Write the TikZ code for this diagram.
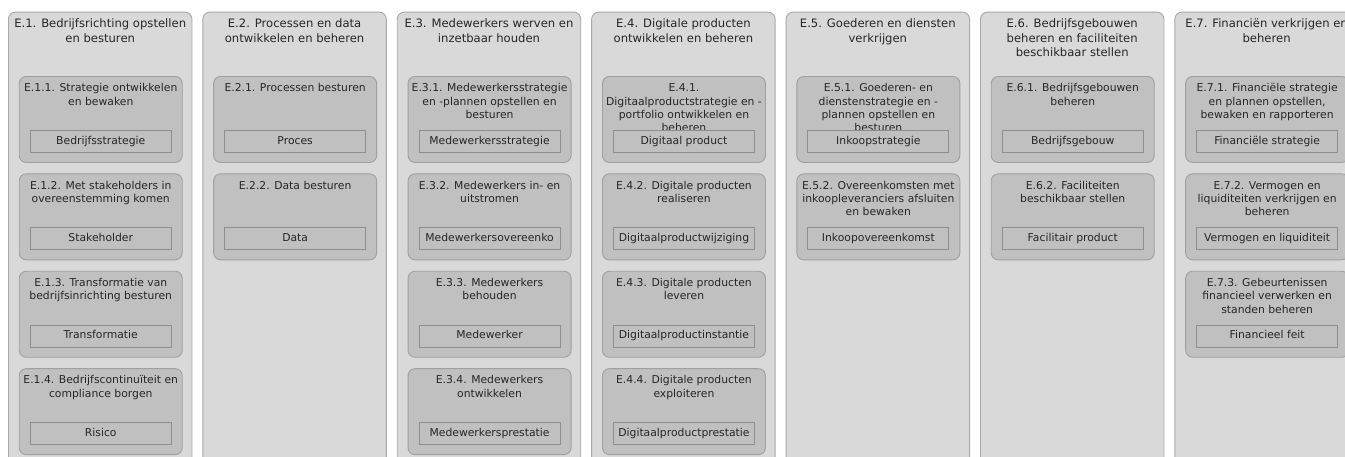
\documentclass[tikz,border=0pt]{standalone}
\usepackage{fontspec}
\setmainfont{DejaVu Sans}
\definecolor{colfill}{HTML}{D9D9D9}
\definecolor{colline}{HTML}{A8A8A8}
\definecolor{procfill}{HTML}{C0C0C0}
\definecolor{procline}{HTML}{A0A0A0}
\definecolor{objline}{HTML}{8E8E8E}
\definecolor{txt}{HTML}{262626}
\tikzset{
 column/.style={draw=colline, fill=colfill, line width=0.9pt, rounded corners=7pt, minimum width=183.5pt, minimum height=480pt, anchor=north west, inner sep=0pt},
 coltitle/.style={align=center, font=\fontsize{11.6}{14.6}\selectfont, text=txt, anchor=north, inner sep=0pt},
 proc/.style={draw=procline, fill=procfill, line width=0.9pt, rounded corners=7pt, minimum width=163pt, minimum height=86pt, anchor=north west, inner sep=0pt},
 proctitle/.style={align=center, font=\fontsize{10.8}{13.3}\selectfont, text=txt, anchor=north, inner sep=0pt},
 obj/.style={draw=objline, fill=procfill, line width=0.8pt, minimum width=141pt, minimum height=22pt, anchor=north, inner sep=0pt, text height=8pt, text depth=2.5pt, font=\fontsize{10.8}{13}\selectfont, text=txt},
}
\newcommand\procbox[5]{%
 \node[proc] (#1) at (#2,#3) {};
 \node[proctitle] (#1t) at ([yshift=-6.5pt]#1.north) {\rule{0pt}{9pt}#4};
 \node[obj] (#1o) at ([yshift=-54pt]#1.north) {#5};
}
\newcommand\colbox[3]{%
 \node[column] (#1) at (#2,11.7) {};
 \node[coltitle] (#1t) at ([yshift=-5.6pt]#1.north) {\rule{0pt}{10pt}#3};
}
\begin{document}
\begin{tikzpicture}[x=1pt,y=-1pt]
\useasboundingbox (0,0) rectangle (1345,456);
\clip (0,0) rectangle (1345,456);

% columns
\colbox{c1}{8}{E.1. Bedrijfsrichting opstellen\\en besturen}
\colbox{c2}{202.4}{E.2. Processen en data\\ontwikkelen en beheren}
\colbox{c3}{396.8}{E.3. Medewerkers werven en\\inzetbaar houden}
\colbox{c4}{591.2}{E.4. Digitale producten\\ontwikkelen en beheren}
\colbox{c5}{785.6}{E.5. Goederen en diensten\\verkrijgen}
\colbox{c6}{980}{E.6. Bedrijfsgebouwen\\beheren en faciliteiten\\beschikbaar stellen}
\colbox{c7}{1174.4}{E.7. Financiën verkrijgen en\\beheren}

% E.1
\procbox{p11}{18.8}{76}{E.1.1. Strategie ontwikkelen\\en bewaken}{Bedrijfsstrategie}
\procbox{p12}{18.8}{173.4}{E.1.2. Met stakeholders in\\overeenstemming komen}{Stakeholder}
\procbox{p13}{18.8}{270.8}{E.1.3. Transformatie van\\bedrijfsinrichting besturen}{Transformatie}
\procbox{p14}{18.8}{368.2}{E.1.4. Bedrijfscontinuïteit en\\compliance borgen}{Risico}

% E.2
\procbox{p21}{213.2}{76}{E.2.1. Processen besturen}{Proces}
\procbox{p22}{213.2}{173.4}{E.2.2. Data besturen}{Data}

% E.3
\procbox{p31}{407.6}{76}{E.3.1. Medewerkersstrategie\\en -plannen opstellen en\\besturen}{Medewerkersstrategie}
\procbox{p32}{407.6}{173.4}{E.3.2. Medewerkers in- en\\uitstromen}{Medewerkersovereenko}
\procbox{p33}{407.6}{270.8}{E.3.3. Medewerkers\\behouden}{Medewerker}
\procbox{p34}{407.6}{368.2}{E.3.4. Medewerkers\\ontwikkelen}{Medewerkersprestatie}

% E.4
\procbox{p41}{602}{76}{E.4.1.\\Digitaalproductstrategie en -\\portfolio ontwikkelen en\\beheren}{Digitaal product}
\procbox{p42}{602}{173.4}{E.4.2. Digitale producten\\realiseren}{Digitaalproductwijziging}
\procbox{p43}{602}{270.8}{E.4.3. Digitale producten\\leveren}{Digitaalproductinstantie}
\procbox{p44}{602}{368.2}{E.4.4. Digitale producten\\exploiteren}{Digitaalproductprestatie}

% E.5
\procbox{p51}{796.4}{76}{E.5.1. Goederen- en\\dienstenstrategie en -\\plannen opstellen en\\besturen}{Inkoopstrategie}
\procbox{p52}{796.4}{173.4}{E.5.2. Overeenkomsten met\\inkoopleveranciers afsluiten\\en bewaken}{Inkoopovereenkomst}

% E.6
\procbox{p61}{990.8}{76}{E.6.1. Bedrijfsgebouwen\\beheren}{Bedrijfsgebouw}
\procbox{p62}{990.8}{173.4}{E.6.2. Faciliteiten\\beschikbaar stellen}{Facilitair product}

% E.7
\procbox{p71}{1185.2}{76}{E.7.1. Financiële strategie\\en plannen opstellen,\\bewaken en rapporteren}{Financiële strategie}
\procbox{p72}{1185.2}{173.4}{E.7.2. Vermogen en\\liquiditeiten verkrijgen en\\beheren}{Vermogen en liquiditeit}
\procbox{p73}{1185.2}{270.8}{E.7.3. Gebeurtenissen\\financieel verwerken en\\standen beheren}{Financieel feit}
\end{tikzpicture}
\end{document}
